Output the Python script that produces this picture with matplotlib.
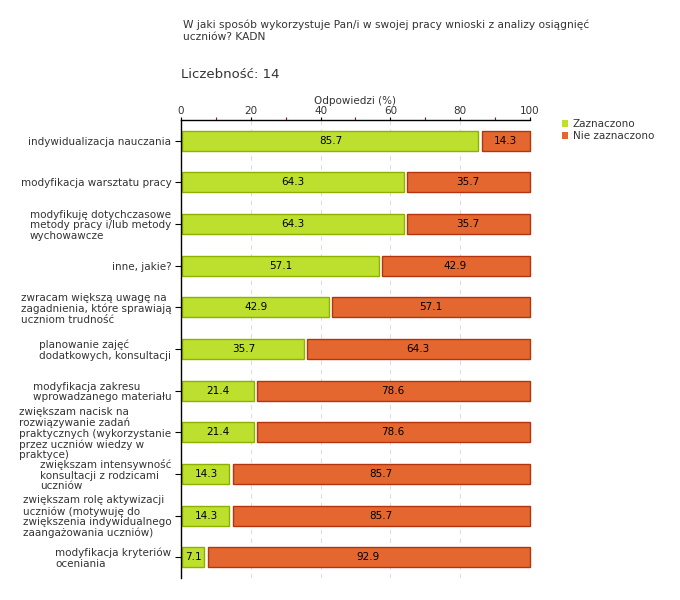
import matplotlib
matplotlib.use("Agg")
import matplotlib.pyplot as plt
from matplotlib.patches import Patch
from matplotlib.ticker import MultipleLocator

categories = [
    "indywidualizacja nauczania",
    "modyfikacja warsztatu pracy",
    "modyfikuję dotychczasowe\nmetody pracy i/lub metody\nwychowawcze",
    "inne, jakie?",
    "zwracam większą uwagę na\nzagadnienia, które sprawiają\nuczniom trudność",
    "planowanie zajęć\ndodatkowych, konsultacji",
    "modyfikacja zakresu\nwprowadzanego materiału",
    "zwiększam nacisk na\nrozwiązywanie zadań\npraktycznych (wykorzystanie\nprzez uczniów wiedzy w\npraktyce)",
    "zwiększam intensywność\nkonsultacji z rodzicami\nuczniów",
    "zwiększam rolę aktywizacji\nuczniów (motywuję do\nzwiększenia indywidualnego\nzaangażowania uczniów)",
    "modyfikacja kryteriów\noceniania",
]
zaznaczono = [85.7, 64.3, 64.3, 57.1, 42.9, 35.7, 21.4, 21.4, 14.3, 14.3, 7.1]
nie_zaznaczono = [14.3, 35.7, 35.7, 42.9, 57.1, 64.3, 78.6, 78.6, 85.7, 85.7, 92.9]
series_names = ["Zaznaczono", "Nie zaznaczono"]
xticks = [0, 20, 40, 60, 80, 100]

green, green_edge = "#BDE02E", "#8FB000"
orange, orange_edge = "#E3672F", "#B53410"
txt = "#333333"

plt.rcParams['font.family'] = ['DejaVu Sans']
fig = plt.figure(figsize=(6.8, 6.0), dpi=100)
ax = fig.add_axes([181/680, 1-578/600, (530-181)/680, (578-120)/600])

n = len(categories)
ys = list(range(n))
for i, (a, b) in enumerate(zip(zaznaczono, nie_zaznaczono)):
    ax.barh(i, a - 0.8, left=0.3, height=0.48, color=green, edgecolor=green_edge, linewidth=1)
    ax.barh(i, b - 0.6, left=a + 0.5, height=0.48, color=orange, edgecolor=orange_edge,
            linewidth=1, clip_on=False)
    ax.text(a/2, i, f"{a:.1f}", ha="center", va="center", fontsize=7.5, color="black")
    ax.text(a + b/2, i, f"{b:.1f}", ha="center", va="center", fontsize=7.5, color="black")

ax.set_ylim(n - 0.5, -0.5)
ax.set_xlim(0, 100)
ax.set_yticks(ys)
ax.set_yticklabels(categories, fontsize=7.5, color=txt, multialignment="left", linespacing=1.08)
ax.xaxis.tick_top()
ax.xaxis.set_label_position("top")
ax.set_xticks(xticks)
ax.set_xticklabels([str(t) for t in xticks], fontsize=7.5, color=txt)
ax.xaxis.set_minor_locator(MultipleLocator(10))
ax.tick_params(axis="x", which="major", length=2.5, width=0.8, color="black", pad=0.5)
ax.tick_params(axis="x", which="minor", length=2.5, width=0.8, color="#cc0000")
ax.tick_params(axis="y", length=4, width=0.8, pad=3)
ax.set_xlabel("Odpowiedzi (%)", fontsize=7.5, color=txt, labelpad=1)
ax.grid(axis="x", which="major", linestyle=(0, (4, 4)), color="#dddddd", linewidth=0.8)
ax.set_axisbelow(True)
for s in ["right", "bottom"]:
    ax.spines[s].set_visible(False)
ax.spines["top"].set_linewidth(1)
ax.spines["left"].set_linewidth(1)

fig.text(183/680, 1-31/600, "W jaki sposób wykorzystuje Pan/i w swojej pracy wnioski z analizy osiągnięć\nuczniów? KADN",
         fontsize=7.7, color=txt, va="center", ha="left", linespacing=1.2)
fig.text(181/680, 1-75/600, "Liczebność: 14", fontsize=9.5, color=txt, va="center", ha="left")

handles = [Patch(facecolor=green, edgecolor="none"), Patch(facecolor=orange, edgecolor="none")]
fig.legend(handles, series_names, loc="upper left", bbox_to_anchor=(557/680, 1-114/600),
           frameon=False, fontsize=7.5, handlelength=0.6, handleheight=0.6, handletextpad=0.4,
           labelspacing=0.2, borderpad=0, labelcolor=txt)

fig.savefig("out.png", dpi=100)
